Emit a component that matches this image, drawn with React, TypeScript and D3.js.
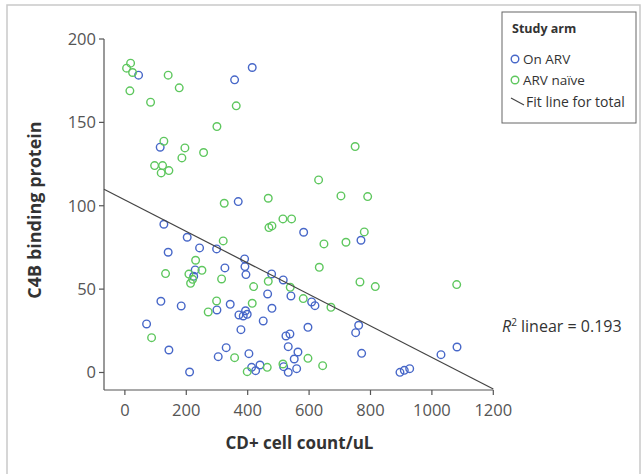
import React from "react";
import * as d3 from "d3";

// On ARV (blue): [CD4 count, C4B binding protein]
const onArvX = [44.6, 357.4, 414.8, 115, 369.2, 127, 203, 141, 243.3, 298.8, 390, 391, 325.8, 229, 224.2, 394.3, 478, 515.8, 540.9, 465, 117.3, 183.5, 343.1, 299.8, 479, 371.5, 385.5, 398.5, 393, 450.6, 70.7, 378, 524.6, 537.6, 532.1, 143.4, 330, 304, 404, 551.6, 563.7, 210.8, 412.8, 425.9, 440, 517.1, 532.1, 559.5, 582.3, 769, 608.3, 619.1, 761.5, 751.7, 596.3, 771.2, 896, 910.1, 927.7, 1029.6, 1081.8];
const onArvY = [178.3, 175.5, 182.9, 135.1, 102.5, 88.9, 81.1, 72.1, 74.7, 74.1, 68.1, 63.5, 62.7, 61.5, 57.7, 58.7, 59.1, 55.5, 45.9, 47.1, 42.7, 39.9, 40.9, 37.5, 38.5, 34.5, 33.9, 34.9, 37, 30.9, 29.1, 25.7, 21.9, 23.1, 15.5, 13.5, 14.9, 9.5, 11.3, 8.1, 12.3, 0.3, 3.1, 1.1, 4.5, 3.5, 0.1, 2.3, 84.1, 79.3, 42.3, 40.1, 28.3, 23.9, 27.1, 11.5, 0.1, 1.3, 2.3, 10.7, 15.3];

// ARV naive (green)
const naiveX = [18.6, 5.5, 25, 16.3, 83.7, 141, 177, 362.7, 299.8, 127, 195.5, 185.7, 256.4, 96.8, 122.8, 118.3, 143.4, 750, 631, 703.8, 790.8, 323.6, 467, 514.8, 543, 469.2, 479, 320.3, 230.4, 251, 132.5, 208.5, 220.6, 214, 315, 467, 419.3, 538.6, 298.8, 271.4, 414.8, 87, 357.4, 398.5, 463.7, 514.8, 779.8, 648.4, 720.1, 633.2, 765.7, 815.6, 1080.8, 581, 671.2, 596.3, 644.2];
const naiveY = [185.5, 182.5, 179.9, 168.9, 162.1, 178.3, 170.7, 159.9, 147.5, 138.7, 134.7, 128.7, 131.9, 124.1, 124.1, 119.7, 121.1, 135.5, 115.5, 105.9, 105.5, 101.5, 104.5, 92.1, 92.1, 86.9, 87.9, 78.9, 67.3, 61.3, 59.3, 59, 55.9, 53.5, 56.1, 54.7, 51.5, 51.1, 42.9, 36.3, 41.5, 20.9, 8.9, 0.5, 3.1, 5.1, 84.3, 77.1, 78.1, 63.1, 54.3, 51.5, 52.7, 44.3, 39.1, 8.5, 4.1];

const xTicks = [0, 200, 400, 600, 800, 1000, 1200];
const yTicks = [0, 50, 100, 150, 200];
const fitIntercept = 103.5;
const fitSlope = -0.0945;
const xDomain = [-68, 1200];
const yDomain = [-10.5, 200];
const legendItems = ["On ARV", "ARV naïve", "Fit line for total"];

const BLUE = "#4767c8";
const GREEN = "#5ec75e";
const FONT = "'Open Sans', sans-serif";

export default function App() {
  const x = d3.scaleLinear().domain(xDomain).range([104, 493.3]);
  const y = d3.scaleLinear().domain(yDomain).range([390, 39]);
  const fitLine = d3
    .line<number>()
    .x((d) => x(d))
    .y((d) => y(fitIntercept + fitSlope * d));

  const blue = onArvX.map((v, i) => [v, onArvY[i]]);
  const green = naiveX.map((v, i) => [v, naiveY[i]]);

  return (
    <svg
      width={644}
      height={474}
      style={{ position: "absolute", left: 0, top: 0, background: "#fff" }}
      fontFamily={FONT}
    >
      <rect x={7} y={5} width={633} height={480} fill="none" stroke="#c9c9c9" strokeWidth={1.5} />

      {/* axes */}
      <line x1={x(xDomain[0])} x2={x(xDomain[1])} y1={y(yDomain[0])} y2={y(yDomain[0])} stroke="#555" strokeWidth={1.2} />
      <line x1={x(xDomain[0])} x2={x(xDomain[0])} y1={y(yDomain[0])} y2={y(200)} stroke="#555" strokeWidth={1.2} />
      {xTicks.map((t) => (
        <g key={"xt" + t}>
          <line x1={x(t)} x2={x(t)} y1={y(yDomain[0])} y2={y(yDomain[0]) + 5} stroke="#555" strokeWidth={1.2} />
          <text x={x(t)} y={y(yDomain[0]) + 26} textAnchor="middle" fontSize={16.5} fill="#555">
            {t}
          </text>
        </g>
      ))}
      {yTicks.map((t) => (
        <g key={"yt" + t}>
          <line x1={x(xDomain[0]) - 5} x2={x(xDomain[0])} y1={y(t)} y2={y(t)} stroke="#555" strokeWidth={1.2} />
          <text x={x(xDomain[0]) - 8} y={y(t)} dy="0.35em" textAnchor="end" fontSize={16.5} fill="#555">
            {t}
          </text>
        </g>
      ))}

      <text x={299.5} y={449} textAnchor="middle" fontSize={17} fontWeight="bold" fill="#333">
        CD+ cell count/uL
      </text>
      <text
        transform={`translate(41, 210) rotate(-90)`}
        textAnchor="middle"
        fontSize={18}
        fontWeight="bold"
        fill="#333"
      >
        C4B binding protein
      </text>

      {/* points */}
      {blue.map((d, i) => (
        <circle key={"b" + i} cx={x(d[0])} cy={y(d[1])} r={3.8} fill="none" stroke={BLUE} strokeWidth={1.4} />
      ))}
      {green.map((d, i) => (
        <circle key={"g" + i} cx={x(d[0])} cy={y(d[1])} r={3.8} fill="none" stroke={GREEN} strokeWidth={1.4} />
      ))}

      <path d={fitLine(xDomain) || ""} fill="none" stroke="#444" strokeWidth={1.2} />

      <text x={502} y={331.5} fontSize={16} fill="#333">
        <tspan fontStyle="italic">R</tspan>
        <tspan dy={-6} fontSize={10}>2</tspan>
        <tspan dy={6}> linear = 0.193</tspan>
      </text>

      {/* legend */}
      <rect x={502} y={12} width={134} height={111} fill="#fff" stroke="#666" strokeWidth={1} />
      <text x={512} y={33} fontSize={12.5} fontWeight="bold" fill="#333">
        Study arm
      </text>
      <circle cx={515} cy={59} r={3.8} fill="none" stroke={BLUE} strokeWidth={1.4} />
      <text x={523} y={64} fontSize={13.5} fill="#333">
        {legendItems[0]}
      </text>
      <circle cx={515} cy={80} r={3.8} fill="none" stroke={GREEN} strokeWidth={1.4} />
      <text x={523} y={85} fontSize={13.5} fill="#333">
        {legendItems[1]}
      </text>
      <line x1={511} y1={98} x2={524} y2={105} stroke="#444" strokeWidth={1.2} />
      <text x={526} y={106.5} fontSize={14} fill="#333">
        {legendItems[2]}
      </text>
    </svg>
  );
}
